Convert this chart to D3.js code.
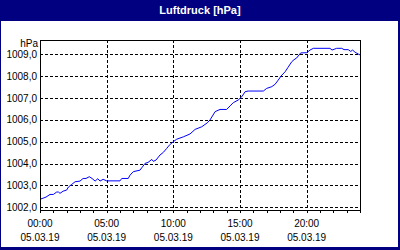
<!DOCTYPE html>
<html>
<head>
<meta charset="utf-8">
<script src="https://cdn.jsdelivr.net/npm/d3@7"></script>
<style>
  body { margin: 0; background: #fff; }
  svg { display: block; }
  text { font-family: "Liberation Sans", Arial, sans-serif; }
</style>
</head>
<body>
<svg width="400" height="250"></svg>
<script>
var svg = d3.select("svg"),
    width = 400,
    height = 250,
    margin = {top: 40, right: 40, bottom: 40, left: 40};

// hours since 05.03.19 00:00 and pressure in hPa
var hours = [0, 0.23, 0.45, 0.75, 1.0, 1.25, 1.39, 1.5, 1.73, 2.0, 2.14, 2.38, 2.63, 3.0, 3.23, 3.45,
    3.7, 3.9, 4.13, 4.33, 4.5, 4.73, 5.0, 6.0, 6.13, 6.62, 6.75, 7.0, 7.5, 7.63, 7.88, 8.1,
    8.38, 8.5, 8.7, 9.0, 9.25, 9.5, 9.7, 10.0, 10.25, 10.75, 11.25, 11.63, 12.13, 12.55, 12.75, 13.13,
    13.5, 14.0, 14.25, 14.5, 14.87, 15.13, 15.38, 15.62, 16.75, 17.0, 17.38, 17.63, 17.87, 18.08, 18.38, 18.6,
    18.88, 19.05, 19.25, 19.55, 20.0, 20.25, 20.5, 21.75, 21.9, 22.25, 22.63, 22.8, 23.12, 23.3, 23.45, 23.63,
    23.87, 24.0];
var pressure = [1002.37, 1002.42, 1002.47, 1002.59, 1002.59, 1002.70, 1002.70, 1002.64, 1002.74, 1002.79, 1002.93, 1003.05, 1003.17, 1003.20, 1003.32, 1003.32,
    1003.40, 1003.32, 1003.20, 1003.31, 1003.20, 1003.28, 1003.21, 1003.21, 1003.32, 1003.32, 1003.47, 1003.63, 1003.70, 1003.81, 1004.01, 1004.05,
    1004.19, 1004.10, 1004.16, 1004.39, 1004.51, 1004.69, 1004.84, 1005.00, 1005.11, 1005.22, 1005.35, 1005.56, 1005.68, 1005.86, 1005.99, 1006.37,
    1006.47, 1006.47, 1006.63, 1006.78, 1006.90, 1007.05, 1007.28, 1007.31, 1007.31, 1007.43, 1007.51, 1007.62, 1007.81, 1008.00, 1008.19, 1008.39,
    1008.65, 1008.74, 1008.82, 1009.05, 1009.06, 1009.18, 1009.26, 1009.26, 1009.18, 1009.26, 1009.26, 1009.20, 1009.20, 1009.12, 1009.18, 1009.08,
    1009.00, 1008.96];

var yTicks = [1002, 1003, 1004, 1005, 1006, 1007, 1008, 1009];
var title = "Luftdruck [hPa]",
    unit = "hPa";

var start = new Date(2019, 2, 5, 0, 0),
    end = new Date(2019, 2, 6, 0, 0);

var data = hours.map(function(h, i) {
    return {t: d3.timeMinute.offset(start, Math.round(h * 60)), v: pressure[i]};
});

var x = d3.scaleTime()
    .domain([start, end])
    .range([margin.left, width - margin.right]);

var y = d3.scaleLinear()
    .domain([1001.88, 1009.64])
    .range([height - margin.bottom, margin.top]);

// frame + title bar
svg.append("rect")
    .attr("width", width).attr("height", height)
    .attr("fill", "#000080");
svg.append("rect")
    .attr("x", 1).attr("y", 21)
    .attr("width", 397).attr("height", 226)
    .attr("fill", "#fff");
svg.append("text")
    .attr("x", width / 2).attr("y", 14)
    .attr("text-anchor", "middle")
    .attr("fill", "#fff")
    .attr("font-size", 11)
    .attr("font-weight", "bold")
    .text(title);

// last tick (24:00) is not labelled
var majorTicks = x.ticks(d3.timeHour.every(5)).filter(function(d) { return +d < +end; }),
    minorTicks = x.ticks(d3.timeHour.every(1));

// grid
var grid = svg.append("g")
    .attr("stroke", "#000")
    .attr("stroke-dasharray", "3,2")
    .attr("shape-rendering", "crispEdges");

grid.selectAll(".hgrid")
    .data(yTicks)
    .enter().append("line")
    .attr("x1", margin.left).attr("x2", width - margin.right)
    .attr("y1", function(d) { return Math.round(y(d)) + 0.5; })
    .attr("y2", function(d) { return Math.round(y(d)) + 0.5; });

grid.selectAll(".vgrid")
    .data(majorTicks.filter(function(d) { return +d > +start; }))
    .enter().append("line")
    .attr("y1", margin.top).attr("y2", height - margin.bottom)
    .attr("x1", function(d) { return Math.round(x(d)) + 0.5; })
    .attr("x2", function(d) { return Math.round(x(d)) + 0.5; });

// x axis: hourly ticks, labels every 5h
var xAxis = svg.append("g")
    .attr("transform", "translate(0," + (height - margin.bottom) + ")")
    .call(d3.axisBottom(x)
        .tickValues(minorTicks)
        .tickSize(3)
        .tickFormat(""));
xAxis.select(".domain").remove();
xAxis.selectAll("line").attr("shape-rendering", "crispEdges");

var xLabels = svg.append("g")
    .attr("font-size", 10)
    .attr("text-anchor", "middle")
    .attr("fill", "#000");

xLabels.selectAll(".time")
    .data(majorTicks)
    .enter().append("text")
    .attr("x", function(d) { return x(d); })
    .attr("y", 227)
    .text(d3.timeFormat("%H:%M"));

xLabels.selectAll(".date")
    .data(majorTicks)
    .enter().append("text")
    .attr("x", function(d) { return x(d); })
    .attr("y", 241)
    .text(d3.timeFormat("%d.%m.%y"));

// y labels
var yAxis = svg.append("g")
    .attr("transform", "translate(" + margin.left + ",0)")
    .call(d3.axisLeft(y)
        .tickValues(yTicks)
        .tickSize(0)
        .tickPadding(3)
        .tickFormat(function(d) { return d3.format(".1f")(d).replace(".", ","); }));
yAxis.select(".domain").remove();
yAxis.selectAll("text")
    .attr("font-family", "Liberation Sans, Arial, sans-serif")
    .attr("font-size", 10)
    .attr("fill", "#000");

svg.append("text")
    .attr("x", margin.left - 2).attr("y", 47)
    .attr("text-anchor", "end")
    .attr("font-size", 10)
    .attr("fill", "#000")
    .text(unit);

// line
var line = d3.line()
    .x(function(d) { return x(d.t); })
    .y(function(d) { return y(d.v); });

svg.append("path")
    .datum(data)
    .attr("d", line)
    .attr("fill", "none")
    .attr("stroke", "#0000ff")
    .attr("stroke-width", 1);

// plot border
svg.append("rect")
    .attr("x", margin.left + 0.5).attr("y", margin.top + 0.5)
    .attr("width", width - margin.left - margin.right)
    .attr("height", height - margin.bottom - margin.top)
    .attr("fill", "none")
    .attr("stroke", "#000")
    .attr("shape-rendering", "crispEdges");
</script>
</body>
</html>
